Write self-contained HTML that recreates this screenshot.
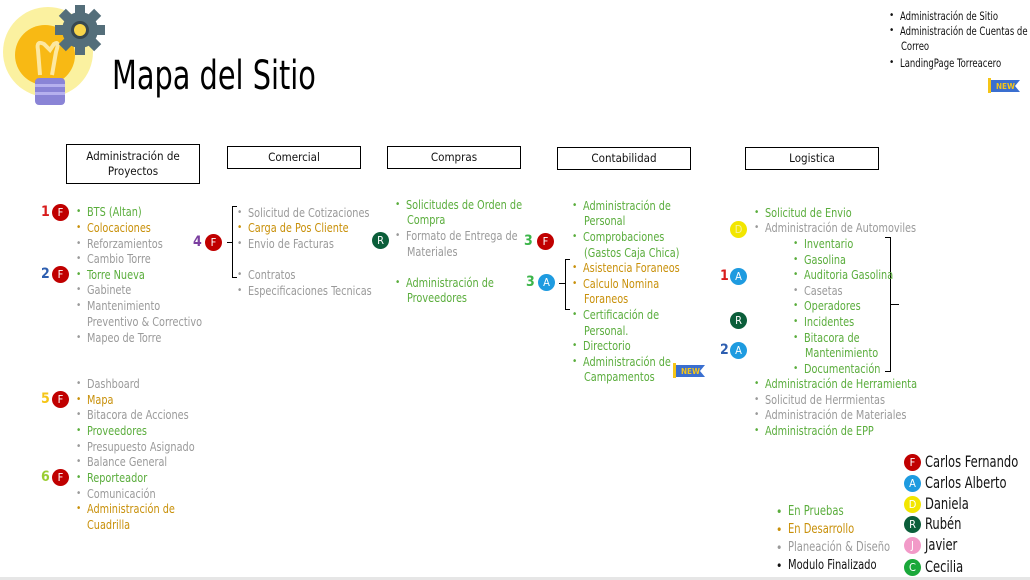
<!DOCTYPE html>
<html><head><meta charset="utf-8">
<style>
*{margin:0;padding:0;box-sizing:border-box}
body{width:1030px;height:580px;background:#fff;position:relative;overflow:hidden;font-family:"DejaVu Sans Condensed","Liberation Sans Narrow","Liberation Sans",sans-serif}
.t{position:absolute;font-size:12px;line-height:14px;white-space:nowrap;transform:scaleX(0.9);transform-origin:0 50%}
.b{position:absolute;font-size:10px;line-height:14px}
.g{color:#5aad3c}.o{color:#c8900a}.y{color:#9a9a9a}.k{color:#111}
.box{position:absolute;border:1px solid #000;font-size:11.5px;text-align:center;line-height:15px;color:#111;display:flex;align-items:center;justify-content:center}
.c{position:absolute;width:17px;height:17px;border-radius:50%;color:#fff;font-size:11px;text-align:center;line-height:17px}
.n{position:absolute;font-size:14px;font-weight:bold;line-height:16px}
.br{position:absolute;border:1.5px solid #000}
.new{position:absolute;height:15px;width:32px}
</style></head><body>
<svg style="position:absolute;left:0;top:0" width="110" height="110">
<circle cx="48" cy="52" r="45" fill="#fbf1a0"/>
<circle cx="45" cy="55" r="30" fill="#f8b914"/>
<path d="M40 75 L38 50 Q36 40 44 44 L50 50 L54 44 Q60 40 56 52 L52 75" stroke="#fde8a0" stroke-width="4" fill="none"/>
<rect x="35" y="78" width="30" height="27" rx="4" fill="#8a84d6"/>
<rect x="35" y="84" width="30" height="3" fill="#b6b0ee"/><rect x="35" y="92" width="30" height="3" fill="#b6b0ee"/>
<g transform="translate(80,30)"><g fill="#546e7a">
<circle r="18"/>
<rect x="-5" y="-25" width="10" height="50"/><rect x="-25" y="-5" width="50" height="10"/>
<rect x="-5" y="-25" width="10" height="50" transform="rotate(45)"/><rect x="-5" y="-25" width="10" height="50" transform="rotate(-45)"/></g>
<circle r="9" fill="#37474f"/><circle r="6" fill="#f8d54a"/></g>
</svg>
<div style="position:absolute;left:112px;top:54px;font-size:40px;line-height:44px;color:#000;transform:scaleX(0.8);transform-origin:0 50%;white-space:nowrap">Mapa del Sitio</div>

<div class="box" style="left:66px;top:144px;width:134px;height:40px">Administración de<br>Proyectos</div>
<div class="box" style="left:227px;top:146px;width:134px;height:23px">Comercial</div>
<div class="box" style="left:387px;top:146px;width:134px;height:23px">Compras</div>
<div class="box" style="left:557px;top:147px;width:134px;height:23px">Contabilidad</div>
<div class="box" style="left:745px;top:147px;width:134px;height:23px">Logistica</div>

<div class="br" style="left:232px;top:206px;width:5px;height:72px;border-right:none"></div>
<div class="br" style="left:227px;top:242px;width:5px;height:0;border-width:1px 0 0 0"></div>
<div class="br" style="left:565px;top:259px;width:5px;height:51px;border-right:none"></div>
<div class="br" style="left:559px;top:283px;width:6px;height:0;border-width:1px 0 0 0"></div>
<div class="br" style="left:885px;top:237px;width:6px;height:135px;border-left:none"></div>
<div class="br" style="left:891px;top:304px;width:8px;height:0;border-width:1px 0 0 0"></div>

<svg class="new" style="left:673px;top:363px" viewBox="0 0 32 15"><rect width="3" height="15" fill="#f5c518"/><path d="M3 2 H32 L27 8 L32 14 H3Z" fill="#3a6fd0"/><text x="8" y="11" font-size="8" font-weight="bold" fill="#f5c518" font-family="DejaVu Sans Condensed,sans-serif">NEW</text></svg>
<svg class="new" style="left:988px;top:78px" viewBox="0 0 32 15"><rect width="3" height="15" fill="#f5c518"/><path d="M3 2 H32 L27 8 L32 14 H3Z" fill="#3a6fd0"/><text x="8" y="11" font-size="8" font-weight="bold" fill="#f5c518" font-family="DejaVu Sans Condensed,sans-serif">NEW</text></svg>

<script>
const items=[
[76,212,'g','BTS (Altan)'],[76,228,'o','Colocaciones'],[76,244,'y','Reforzamientos'],[76,259,'y','Cambio Torre'],[76,275,'g','Torre Nueva'],[76,290,'y','Gabinete'],[76,306,'y','Mantenimiento'],[null,322,'y','Preventivo & Correctivo',87],[76,338,'y','Mapeo de Torre'],
[76,384,'y','Dashboard'],[76,400,'o','Mapa'],[76,415,'y','Bitacora de Acciones'],[76,431,'g','Proveedores'],[76,447,'y','Presupuesto Asignado'],[76,462,'y','Balance General'],[76,478,'g','Reporteador'],[76,494,'y','Comunicación'],[76,509,'o','Administración  de'],[null,525,'o','Cuadrilla',87],
[237,213,'y','Solicitud de Cotizaciones'],[237,228,'o','Carga de Pos Cliente'],[237,244,'y','Envio de Facturas'],[237,275,'y','Contratos'],[237,291,'y','Especificaciones Tecnicas'],
[395,205,'g','Solicitudes de Orden de'],[null,220,'g','Compra',407],[395,236,'y','Formato de Entrega de'],[null,252,'y','Materiales',407],[395,283,'g','Administración de'],[null,298,'g','Proveedores',407],
[572,206,'g','Administración de'],[null,221,'g','Personal',584],[572,237,'g','Comprobaciones'],[null,253,'g','(Gastos Caja Chica)',584],[572,268,'o','Asistencia Foraneos'],[572,284,'o','Calculo Nomina'],[null,299,'o','Foraneos',584],[572,315,'g','Certificación de'],[null,331,'g','Personal.',584],[572,346,'g','Directorio'],[572,362,'g','Administración de'],[null,377,'g','Campamentos',584],
[754,213,'g','Solicitud de Envio'],[754,228,'y','Administración de Automoviles'],
[793,244,'g','Inventario'],[793,260,'g','Gasolina'],[793,275,'g','Auditoria Gasolina'],[793,291,'y','Casetas'],[793,306,'g','Operadores'],[793,322,'g','Incidentes'],[793,338,'g','Bitacora de'],[null,353,'g','Mantenimiento',805],[793,369,'g','Documentación'],
[754,384,'g','Administración de Herramienta'],[754,400,'y','Solicitud de Herrmientas'],[754,415,'y','Administración de Materiales'],[754,431,'g','Administración de EPP'],
[889,16,'k','Administración de Sitio'],[889,31,'k','Administración de Cuentas de'],[null,46,'k','Correo',901],[889,63,'k','LandingPage Torreacero'],
[776,512,'g','En Pruebas'],[776,530,'o','En Desarrollo'],[776,548,'y','Planeación & Diseño'],[776,566,'k','Modulo Finalizado']
];
const badges=[
[45,60,212,'#d81c1c','1','F','#c00000'],[45,60,274,'#2e5fb0','2','F','#c00000'],[45,60,399,'#f5c518','5','F','#c00000'],[45,60,477,'#9acd32','6','F','#c00000'],
[197,213,242,'#7b3fa0','4','F','#c00000'],[null,380,240,'','', 'R','#0b5e3a'],
[528,545,241,'#3cb54a','3','F','#c00000'],[530,546,282,'#3cb54a','3','A','#1e9be0'],
[null,738,229,'','','D','#f2e600'],[724,738,276,'#d81c1c','1','A','#1e9be0'],[null,738,320,'','','R','#0b5e3a'],[724,738,350,'#2e5fb0','2','A','#1e9be0']
];
const people=['Carlos Fernando','Carlos Alberto','Daniela','Rubén','Javier','Cecilia'];
const letters=['F','A','D','R','J','C'];
const pcolors=['#c00000','#1e9be0','#f2e600','#0b5e3a','#f29ac8','#1aa83a'];
const py=[462,483,504,524,545,567];
const B=document.body;
items.forEach(it=>{
 const big=it[1]>500&&it[0]===776;
 const top=it[1]<70;
 if(it[0]!==null){
  const b=document.createElement('div');b.className='b '+it[2];b.textContent='•';
  b.style.left=it[0]+'px';b.style.top=(it[1]-7)+'px';
  if(big){b.style.fontSize='12px';}
  
  
  B.appendChild(b);
 }
 const t=document.createElement('div');t.className='t '+it[2];t.textContent=it[3];
 const x=it[0]!==null?it[0]+11:it[4];
 t.style.left=x+'px';t.style.top=(it[1]-7)+'px';
 if(top){t.style.fontSize='11.5px';t.style.transform='scaleX(0.82)';}
 if(big){t.style.fontSize='13px';t.style.transform='scaleX(0.85)';t.style.left=(x+1)+'px';t.style.top=(it[1]-8)+'px';t.style.lineHeight='16px';}
 
 
 B.appendChild(t);
});
badges.forEach(d=>{
 if(d[0]!==null){
  const n=document.createElement('div');n.className='n';n.textContent=d[4];n.style.color=d[3];
  n.style.left=(d[0]-4)+'px';n.style.top=(d[2]-8)+'px';
  
  
  B.appendChild(n);
 }
 const c=document.createElement('div');c.className='c';c.textContent=d[5];c.style.background=d[6];
 c.style.left=(d[1]-8)+'px';c.style.top=(d[2]-8)+'px';
 if(d[5]==='D')c.style.color='#f8f3a0';
 
 
 B.appendChild(c);
});
people.forEach((p,i)=>{
 const c=document.createElement('div');c.className='c';c.textContent=letters[i];c.style.background=pcolors[i];
 c.style.left='904px';c.style.top=(py[i]-8)+'px';
 
 
 B.appendChild(c);
 const t=document.createElement('div');t.className='t k';t.textContent=p;
 t.style.left='925px';t.style.top=(py[i]-10)+'px';t.style.fontSize='16px';t.style.lineHeight='20px';t.style.transform='scaleX(0.8)';
 
 
 B.appendChild(t);
});
</script>
<div style="position:absolute;left:0;top:577px;width:1030px;height:3px;background:#e6e6e6"></div>
</body></html>
